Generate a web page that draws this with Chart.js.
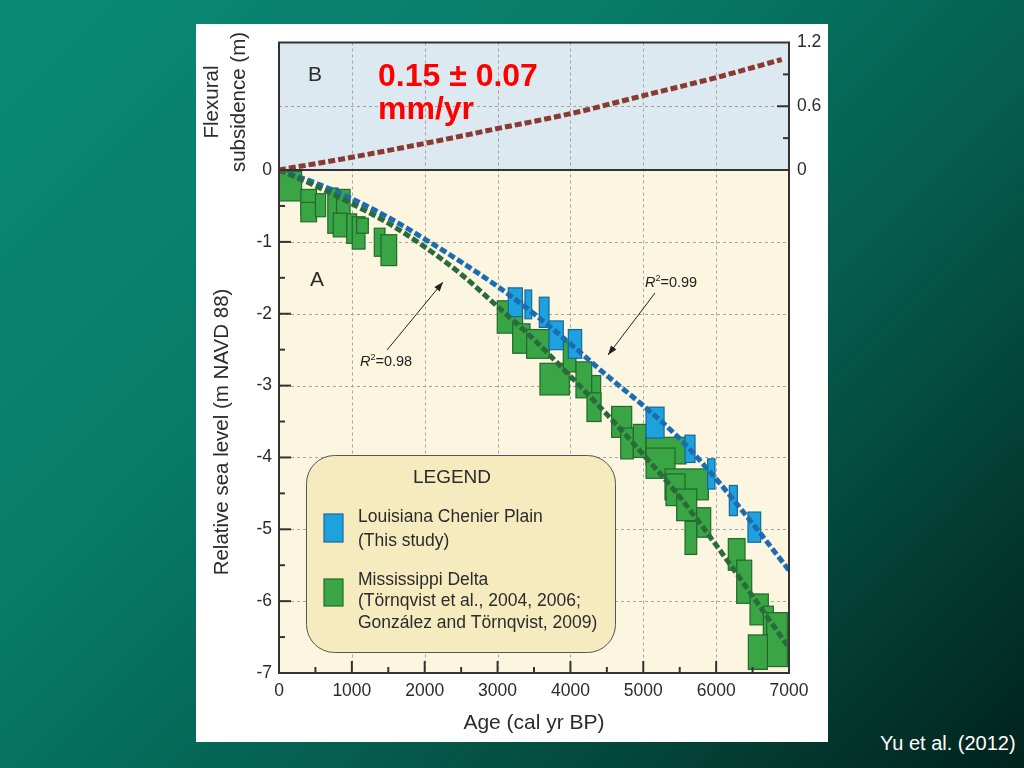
<!DOCTYPE html>
<html lang="en">
<head>
<meta charset="UTF-8">
<title>Relative sea level and flexural subsidence</title>
<script src="https://cdn.jsdelivr.net/npm/chart.js"></script>
<style>
    html, body { margin: 0; padding: 0; }
    body {
        width: 1024px;
        height: 768px;
        overflow: hidden;
        position: relative;
        background: linear-gradient(135deg, #0a8a76 0%, #077b68 35%, #055d4e 62%, #01231c 100%);
        font-family: "Liberation Sans", Arial, sans-serif;
    }
    .panel {
        position: absolute;
        left: 196px;
        top: 24px;
        width: 632px;
        height: 718px;
        background: #ffffff;
    }
    #chart { position: absolute; left: 0; top: 0; }
    .credit {
        position: absolute;
        left: 880px;
        top: 732px;
        color: #ffffff;
        white-space: nowrap;
        font-family: "Liberation Sans", Arial, sans-serif;
        font-size: 20px;
    }
</style>
</head>
<body>

<div class="panel">
    <canvas id="chart" width="632" height="718"></canvas>
</div>
<div class="credit">Yu et al. (2012)</div>

<script>
// x axis (age, cal yr BP)
const xTicks = [0, 1000, 2000, 3000, 4000, 5000, 6000, 7000];
const seaLevelTicks = [0, -1, -2, -3, -4, -5, -6, -7];
const subsidenceTicks = [0, 0.6, 1.2];

// fitted trend lines (panel A)
const trendAges = [0, 500, 1000, 1500, 2000, 2500, 3000, 3500, 4000, 4500, 5000, 5500, 6000, 6500, 7000];
const chenierTrend = [0, -0.18, -0.4, -0.66, -0.96, -1.28, -1.62, -2.0, -2.42, -2.86, -3.28, -3.74, -4.3, -4.92, -5.57];
const deltaTrend = [0, -0.22, -0.47, -0.74, -1.07, -1.45, -1.9, -2.36, -2.87, -3.4, -3.96, -4.55, -5.22, -5.93, -6.65];

// flexural subsidence (panel B)
const subsidenceAges = [0, 1000, 2000, 3000, 4000, 5000, 6000, 6900];
const subsidence = [0, 0.12, 0.25, 0.39, 0.53, 0.7, 0.87, 1.04];

// sea-level index points: [age min, age max] and [top, bottom] in m
const chenierBoxAges = [[3147, 3340], [3376, 3468], [3573, 3706], [3706, 3902], [3971, 4154],
    [5038, 5285], [5573, 5710], [5884, 5984], [6181, 6291], [6437, 6611]];
const chenierBoxLevels = [[-1.64, -2.04], [-1.67, -2.07], [-1.77, -2.19], [-2.1, -2.5], [-2.22, -2.62],
    [-3.3, -3.73], [-3.69, -4.07], [-4.02, -4.44], [-4.39, -4.81], [-4.76, -5.18]];

const deltaBoxAges = [[0, 310], [300, 515], [300, 515], [500, 640], [670, 810], [790, 975], [745, 929],
    [930, 1066], [1005, 1180], [1066, 1226], [1308, 1455], [1400, 1615],
    [2996, 3344], [3207, 3445], [3399, 3710], [3582, 3985], [3902, 4076], [4076, 4292], [4292, 4415],
    [4227, 4420], [4566, 4841], [4690, 4864], [4864, 5038], [5038, 5586], [5038, 5436], [5298, 5893],
    [5312, 5573], [5458, 5733], [5733, 5925], [5573, 5733], [6167, 6396], [6282, 6488], [6465, 6716],
    [6648, 6785], [6694, 6977], [6442, 6703]];
const deltaBoxLevels = [[-0.02, -0.43], [-0.27, -0.62], [-0.45, -0.72], [-0.33, -0.65], [-0.25, -0.88],
    [-0.27, -0.81], [-0.6, -0.93], [-0.61, -1.02], [-0.65, -1.1], [-0.67, -0.88], [-0.81, -1.2], [-0.9, -1.33],
    [-1.82, -2.27], [-2.14, -2.55], [-2.22, -2.62], [-2.69, -3.13], [-2.39, -2.81], [-2.67, -3.17], [-2.86, -3.25],
    [-3.1, -3.5], [-3.29, -3.72], [-3.59, -4.02], [-3.54, -4.0], [-3.72, -4.09], [-3.87, -4.29], [-4.16, -4.59],
    [-4.23, -4.67], [-4.44, -4.88], [-4.7, -5.11], [-4.89, -5.35], [-5.13, -5.57], [-5.43, -6.03], [-5.9, -6.33],
    [-6.07, -6.63], [-6.16, -6.91], [-6.47, -6.95]];

const FONT = '"Liberation Sans", Arial, sans-serif';
const INK = '#2b2b2b';

function line(ctx, x1, y1, x2, y2) {
    ctx.beginPath();
    ctx.moveTo(x1, y1);
    ctx.lineTo(x2, y2);
    ctx.stroke();
}

function drawBoxes(ctx, x, y, ages, levels, fill, edge) {
    ctx.fillStyle = fill;
    ctx.strokeStyle = edge;
    ctx.lineWidth = 1.2;
    ages.forEach((a, i) => {
        const x1 = x.getPixelForValue(a[0]);
        const x2 = x.getPixelForValue(a[1]);
        const y1 = y.getPixelForValue(levels[i][0]);
        const y2 = y.getPixelForValue(levels[i][1]);
        ctx.fillRect(x1, y1, x2 - x1, y2 - y1);
        ctx.strokeRect(x1, y1, x2 - x1, y2 - y1);
    });
}

function arrow(ctx, x1, y1, x2, y2) {
    ctx.strokeStyle = '#222';
    ctx.fillStyle = '#222';
    ctx.lineWidth = 1;
    line(ctx, x1, y1, x2, y2);
    const ang = Math.atan2(y2 - y1, x2 - x1);
    ctx.beginPath();
    ctx.moveTo(x2, y2);
    ctx.lineTo(x2 - 10 * Math.cos(ang - 0.35), y2 - 10 * Math.sin(ang - 0.35));
    ctx.lineTo(x2 - 10 * Math.cos(ang + 0.35), y2 - 10 * Math.sin(ang + 0.35));
    ctx.closePath();
    ctx.fill();
}

function rSquared(ctx, left, mid, value) {
    ctx.fillStyle = '#222';
    ctx.textBaseline = 'middle';
    ctx.textAlign = 'left';
    ctx.font = 'italic 14.5px ' + FONT;
    ctx.fillText('R', left, mid);
    let w = ctx.measureText('R').width;
    ctx.font = '9px ' + FONT;
    ctx.fillText('2', left + w, mid - 4);
    w += ctx.measureText('2').width;
    ctx.font = '14.5px ' + FONT;
    ctx.fillText('=' + value, left + w, mid);
}

function roundBox(ctx, x, y, w, h, r) {
    ctx.beginPath();
    ctx.moveTo(x + r, y);
    ctx.lineTo(x + w - r, y);
    ctx.arcTo(x + w, y, x + w, y + r, r);
    ctx.lineTo(x + w, y + h - r);
    ctx.arcTo(x + w, y + h, x + w - r, y + h, r);
    ctx.lineTo(x + r, y + h);
    ctx.arcTo(x, y + h, x, y + h - r, r);
    ctx.lineTo(x, y + r);
    ctx.arcTo(x, y, x + r, y, r);
    ctx.closePath();
}

const panelsPlugin = {
    id: 'panels',
    beforeDraw(chart) {
        const { ctx, chartArea: a, scales: { x, y, y2 } } = chart;
        const y0 = y.getPixelForValue(0);
        ctx.save();
        ctx.fillStyle = '#dce9f0';
        ctx.fillRect(a.left, a.top, a.width, y0 - a.top);
        ctx.fillStyle = '#fcf6e0';
        ctx.fillRect(a.left, y0, a.width, a.bottom - y0);

        ctx.strokeStyle = '#a3a3a3';
        ctx.lineWidth = 1;
        ctx.setLineDash([3, 3]);
        xTicks.slice(1, -1).forEach(v => {
            const px = Math.round(x.getPixelForValue(v)) + 0.5;
            line(ctx, px, a.top, px, a.bottom);
        });
        seaLevelTicks.slice(1, -1).forEach(v => {
            const py = Math.round(y.getPixelForValue(v)) + 0.5;
            line(ctx, a.left, py, a.right, py);
        });
        const p6 = Math.round(y2.getPixelForValue(0.6)) + 0.5;
        line(ctx, a.left, p6, a.right, p6);
        ctx.restore();
    },
    beforeDatasetsDraw(chart) {
        const { ctx, scales: { x, y } } = chart;
        ctx.save();
        drawBoxes(ctx, x, y, deltaBoxAges, deltaBoxLevels, '#3aa544', '#22692c');
        drawBoxes(ctx, x, y, chenierBoxAges, chenierBoxLevels, '#1ea2dd', '#17679e');
        ctx.restore();
    },
    afterDatasetsDraw(chart) {
        const { ctx, chartArea: a, scales: { x, y, y2 } } = chart;
        const y0 = y.getPixelForValue(0);
        ctx.save();

        // frame and panel divider
        ctx.strokeStyle = '#333';
        ctx.lineWidth = 2;
        ctx.strokeRect(a.left, a.top, a.width, a.height);
        line(ctx, a.left, y0, a.right, y0);

        // inward tick marks
        for (let v = 500; v < 7000; v += 500) {
            const px = x.getPixelForValue(v);
            line(ctx, px, a.bottom, px, a.bottom - (v % 1000 === 0 ? 12 : 6));
        }
        for (let v = -0.5; v > -7; v -= 0.5) {
            const py = y.getPixelForValue(v);
            line(ctx, a.left, py, a.left + (Number.isInteger(v) ? 12 : 6), py);
        }
        [0.3, 0.6, 0.9].forEach(v => {
            const py = y2.getPixelForValue(v);
            line(ctx, a.right, py, a.right - (v === 0.6 ? 12 : 6), py);
        });

        // panel letters
        ctx.fillStyle = INK;
        ctx.textAlign = 'center';
        ctx.textBaseline = 'middle';
        ctx.font = '21px ' + FONT;
        ctx.fillText('B', 119, 51);
        ctx.fillText('A', 121, 256);

        // rate annotation
        ctx.fillStyle = '#ff0000';
        ctx.textAlign = 'left';
        ctx.textBaseline = 'alphabetic';
        ctx.font = 'bold 32px ' + FONT;
        ctx.fillText('0.15 \u00b1 0.07', 182, 62);
        ctx.fillText('mm/yr', 182, 95);

        // R2 labels and arrows
        rSquared(ctx, 449, 259, '0.99');
        arrow(ctx, 459, 269, 412, 331);
        rSquared(ctx, 164, 338, '0.98');
        arrow(ctx, 191, 326, 247, 258);

        // legend box
        roundBox(ctx, 110.5, 431.5, 309, 197, 28);
        ctx.fillStyle = '#f6ebbf';
        ctx.fill();
        ctx.strokeStyle = '#555';
        ctx.lineWidth = 1;
        ctx.stroke();

        ctx.fillStyle = INK;
        ctx.textAlign = 'center';
        ctx.textBaseline = 'middle';
        ctx.font = '19px ' + FONT;
        ctx.fillText('LEGEND', 256, 454);

        ctx.fillStyle = '#1ea2dd';
        ctx.strokeStyle = '#17679e';
        ctx.lineWidth = 1.2;
        ctx.fillRect(128, 490, 19, 28);
        ctx.strokeRect(128, 490, 19, 28);
        ctx.fillStyle = '#3aa544';
        ctx.strokeStyle = '#22692c';
        ctx.fillRect(128, 555, 19, 27);
        ctx.strokeRect(128, 555, 19, 27);

        ctx.fillStyle = INK;
        ctx.textAlign = 'left';
        ctx.font = '17.5px ' + FONT;
        ctx.fillText('Louisiana Chenier Plain', 162, 493);
        ctx.fillText('(This study)', 162, 517);
        ctx.fillText('Mississippi Delta', 162, 556);
        ctx.fillText('(T\u00f6rnqvist et al., 2004, 2006;', 162, 577);
        ctx.fillText('Gonz\u00e1lez and T\u00f6rnqvist, 2009)', 162, 599);

        // vertical axis titles
        ctx.font = '20.5px ' + FONT;
        ctx.textAlign = 'center';
        ctx.translate(26, 408);
        ctx.rotate(-Math.PI / 2);
        ctx.fillText('Relative sea level (m NAVD 88)', 0, 0);
        ctx.rotate(Math.PI / 2);
        ctx.translate(-26, -408);
        ctx.translate(16, 78);
        ctx.rotate(-Math.PI / 2);
        ctx.fillText('Flexural', 0, 0);
        ctx.fillText('subsidence (m)', 0, 27);
        ctx.restore();
    }
};

const tickFont = { family: FONT, size: 17.5 };

new Chart(document.getElementById('chart'), {
    type: 'line',
    data: {
        datasets: [
            {
                label: 'Flexural subsidence',
                data: subsidenceAges.map((a, i) => ({ x: a, y: subsidence[i] })),
                yAxisID: 'y2',
                borderColor: '#8a3a30',
                borderWidth: 5,
                borderDash: [7, 3],
                pointRadius: 0,
                cubicInterpolationMode: 'monotone'
            },
            {
                label: 'Mississippi Delta fit',
                data: trendAges.map((a, i) => ({ x: a, y: deltaTrend[i] })),
                yAxisID: 'y',
                borderColor: '#2b6a3b',
                borderWidth: 5,
                borderDash: [7, 3],
                pointRadius: 0,
                cubicInterpolationMode: 'monotone'
            },
            {
                label: 'Chenier Plain fit',
                data: trendAges.map((a, i) => ({ x: a, y: chenierTrend[i] })),
                yAxisID: 'y',
                borderColor: '#1b6cb2',
                borderWidth: 5,
                borderDash: [7, 3],
                pointRadius: 0,
                cubicInterpolationMode: 'monotone'
            }
        ]
    },
    options: {
        responsive: false,
        animation: false,
        layout: { padding: { left: 0, right: 0, top: 16, bottom: 0 } },
        plugins: {
            legend: { display: false },
            tooltip: { enabled: false }
        },
        scales: {
            x: {
                type: 'linear',
                min: 0,
                max: 7000,
                afterBuildTicks: s => { s.ticks = xTicks.map(v => ({ value: v })); },
                afterFit: s => { s.height = 69; },
                grid: { display: false, drawTicks: false },
                border: { display: false },
                ticks: { font: tickFont, color: INK, padding: 8, maxRotation: 0, autoSkip: false,
                    callback: v => String(v) },
                title: {
                    display: true,
                    text: 'Age (cal yr BP)',
                    font: { family: FONT, size: 21 },
                    color: INK,
                    padding: { top: 0, bottom: 6 }
                }
            },
            y: {
                type: 'linear',
                position: 'left',
                min: -7,
                max: 1.775,
                afterBuildTicks: s => { s.ticks = seaLevelTicks.map(v => ({ value: v })); },
                afterFit: s => { s.width = 83; },
                grid: { display: false, drawTicks: false },
                border: { display: false },
                ticks: { font: tickFont, color: INK, padding: 7, callback: v => String(v) }
            },
            y2: {
                type: 'linear',
                position: 'right',
                min: -4.734375,
                max: 1.2,
                afterBuildTicks: s => { s.ticks = subsidenceTicks.map(v => ({ value: v })); },
                afterFit: s => { s.width = 39; },
                grid: { display: false, drawTicks: false },
                border: { display: false },
                ticks: { font: tickFont, color: INK, padding: 8, callback: v => String(v) }
            }
        }
    },
    plugins: [panelsPlugin]
});
</script>
</body>
</html>
